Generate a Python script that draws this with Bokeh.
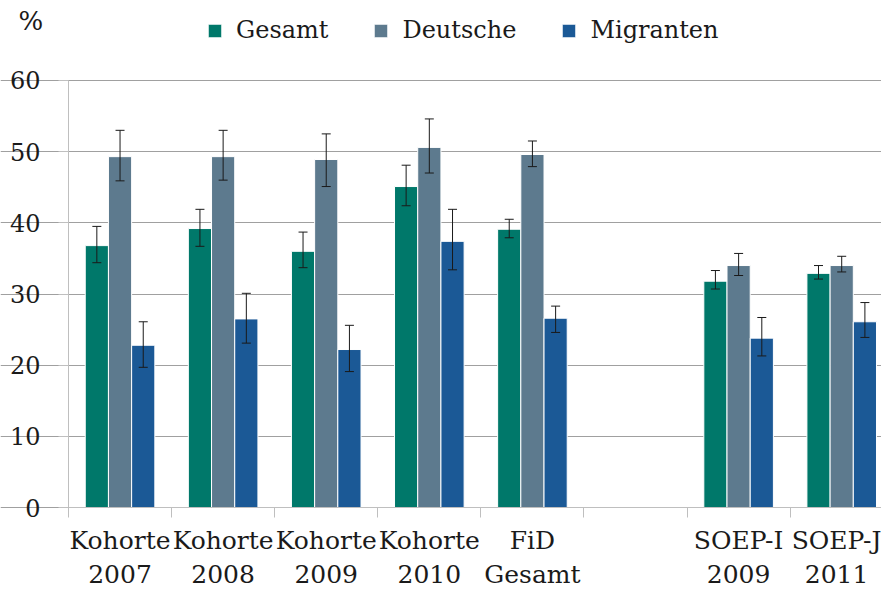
import numpy as np
from bokeh.plotting import figure
from bokeh.models import (ColumnDataSource, Range1d, FixedTicker, Whisker, TeeHead,
                          Legend, LegendItem, Label, LinearAxis)
from bokeh.embed import file_html
from bokeh.resources import INLINE

# ---- data -------------------------------------------------------------
categories = ["Kohorte\n2007", "Kohorte\n2008", "Kohorte\n2009", "Kohorte\n2010",
              "FiD\nGesamt", "", "SOEP-I\n2009", "SOEP-J\n2011"]
series = ["Gesamt", "Deutsche", "Migranten"]

gesamt        = [36.8, 39.2, 36.0, 45.1, 39.1, np.nan, 31.8, 32.9]
gesamt_lo     = [34.4, 36.7, 33.7, 42.4, 37.9, np.nan, 30.7, 32.1]
gesamt_hi     = [39.5, 41.9, 38.7, 48.1, 40.5, np.nan, 33.3, 34.0]

deutsche      = [49.3, 49.3, 48.9, 50.6, 49.6, np.nan, 34.0, 34.0]
deutsche_lo   = [45.9, 46.0, 45.1, 47.0, 47.9, np.nan, 32.6, 33.1]
deutsche_hi   = [53.0, 53.0, 52.5, 54.6, 51.5, np.nan, 35.7, 35.3]

migranten     = [22.8, 26.5, 22.2, 37.4, 26.6, np.nan, 23.8, 26.1]
migranten_lo  = [19.7, 23.1, 19.1, 33.4, 24.6, np.nan, 21.3, 23.9]
migranten_hi  = [26.1, 30.1, 25.6, 41.9, 28.3, np.nan, 26.7, 28.8]

y_ticks = [0, 10, 20, 30, 40, 50, 60]
colors = ["#00786a", "#5d7a8e", "#1b5996"]

# ---- figure -----------------------------------------------------------
FONT = "DejaVu Serif"
TXT = "#1a1a1a"
AX = "#bfbfbf"
n = len(categories)
centers = np.arange(n) + 0.5

p = figure(width=881, height=593, output_backend="svg", toolbar_location=None,
           x_range=Range1d(-0.6595, 7.886), y_range=Range1d(-12.08, 71.24),
           y_axis_location=None, x_axis_location=None,
           min_border_left=0, min_border_right=0, min_border_top=0,
           min_border_bottom=0)
p.outline_line_color = None
p.background_fill_color = "white"
p.border_fill_color = "white"

offsets = [-0.225, 0.0, 0.225]
vals = [gesamt, deutsche, migranten]
los = [gesamt_lo, deutsche_lo, migranten_lo]
his = [gesamt_hi, deutsche_hi, migranten_hi]

renderers = []
for name, off, v, lo, hi, c in zip(series, offsets, vals, los, his, colors):
    v, lo, hi = np.array(v), np.array(lo), np.array(hi)
    ok = ~np.isnan(v)
    src = ColumnDataSource(dict(x=(centers + off)[ok], top=v[ok], lower=lo[ok], upper=hi[ok]))
    r = p.vbar(x="x", top="top", width=0.225, source=src,
               fill_color=c, line_color="white", line_width=1)
    renderers.append(r)
    w = Whisker(source=src, base="x", lower="lower", upper="upper",
                dimension="height", line_color=TXT, line_width=1,
                upper_head=TeeHead(size=9, line_color=TXT, line_width=1),
                lower_head=TeeHead(size=9, line_color=TXT, line_width=1))
    w.level = "overlay"
    p.add_layout(w)

# ---- axes -------------------------------------------------------------
yax = LinearAxis(fixed_location=0, ticker=FixedTicker(ticks=y_ticks), bounds=(0, 60))
yax.axis_line_color = AX
yax.major_tick_line_color = AX
yax.major_tick_out = 10
yax.major_tick_in = 0
yax.minor_tick_line_color = None
yax.major_label_standoff = 18
yax.major_label_text_font = FONT
yax.major_label_text_font_size = "24px"
yax.major_label_text_color = TXT
p.add_layout(yax, "left")

xax = LinearAxis(fixed_location=0,
                 ticker=FixedTicker(ticks=list(centers), minor_ticks=list(np.arange(n + 1))),
                 bounds=(0, n))
xax.major_label_overrides = {float(c): lab for c, lab in zip(centers, categories)}
xax.major_tick_line_color = None
xax.minor_tick_line_color = AX
xax.minor_tick_out = 10
xax.minor_tick_in = 0
xax.axis_line_color = AX
xax.major_label_standoff = 8
xax.major_label_text_font = FONT
xax.major_label_text_font_size = "25px"
xax.major_label_text_color = TXT
p.add_layout(xax, "below")

p.ygrid.ticker = FixedTicker(ticks=y_ticks)
p.ygrid.bounds = (0, n)
p.ygrid.grid_line_color = "#a0a0a0"
p.ygrid.grid_line_width = 1
p.xgrid.grid_line_color = None

# ---- legend -----------------------------------------------------------
legend = Legend(items=[LegendItem(label=s, renderers=[r]) for s, r in zip(series, renderers)],
                orientation="horizontal", location=(206, 549), margin=0, padding=4,
                spacing=44, label_standoff=13, glyph_width=17, glyph_height=17,
                label_text_font=FONT, label_text_font_size="24px",
                label_text_color=TXT, border_line_color=None,
                background_fill_alpha=0)
p.add_layout(legend)

pct = Label(x=-0.485, y=66.3, text="%", text_font=FONT, text_font_size="26px",
            text_color=TXT)
p.add_layout(pct)

open("out.html", "w").write(file_html(p, INLINE))
